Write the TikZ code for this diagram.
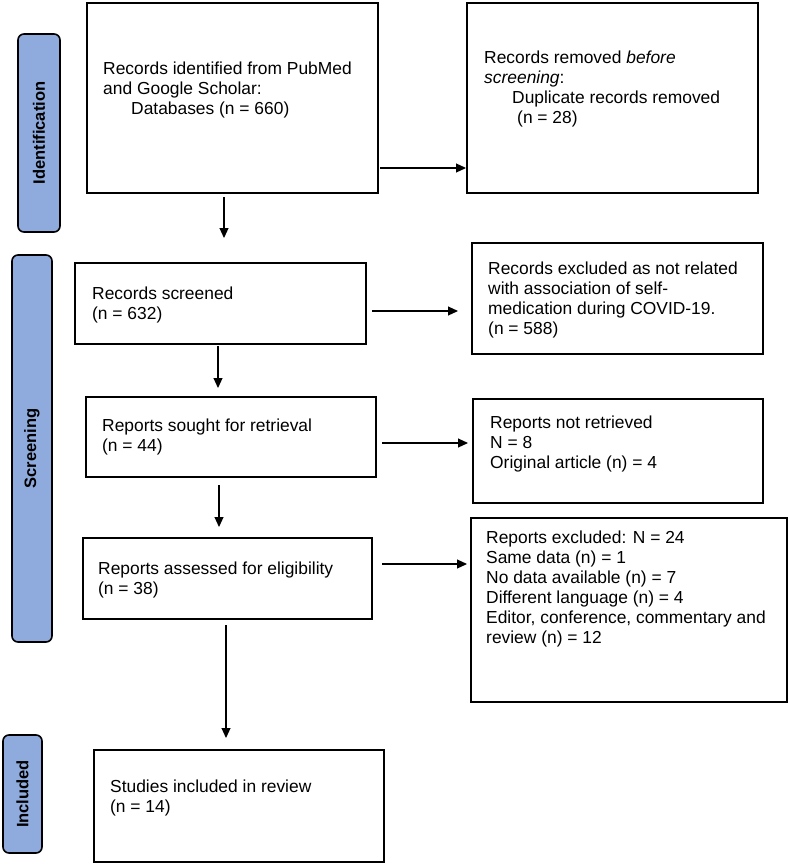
\documentclass[tikz,border=0pt]{standalone}
\usepackage{fontspec}
\setmainfont{Liberation Sans}
\usetikzlibrary{arrows.meta}
\definecolor{pillblue}{HTML}{8FAADC}
\begin{document}
\begin{tikzpicture}[x=1pt,y=-1pt,
  box/.style={draw=black, line width=1.6pt, inner sep=0pt, outer sep=0pt},
  txt/.style={anchor=north west, inner sep=0pt, align=left, font=\fontsize{17.4}{20}\selectfont},
  pill/.style={draw=black, line width=1.6pt, fill=pillblue, rounded corners=6pt, inner sep=0pt, rotate=90, font=\fontsize{16.5}{19}\selectfont\bfseries},
  arr/.style={line width=1.1pt, -{Triangle[length=10pt,width=9pt]}}]
\useasboundingbox (0,0) rectangle (789,864);
% phase labels
\node[pill, minimum width=198pt, minimum height=42pt] (p1) at (39,133) {Identification};
\node[pill, minimum width=387pt, minimum height=40pt] (p2) at (32,448.5) {Screening};
\node[pill, minimum width=118pt, minimum height=39pt] (p3) at (22.5,794) {Included};
% left column boxes
\node[box, minimum width=291pt, minimum height=190pt] (b1) at (232.5,98) {};
\node[box, minimum width=291pt, minimum height=81pt] (b3) at (220.5,303.5) {};
\node[box, minimum width=290pt, minimum height=80pt] (b4) at (231,437) {};
\node[box, minimum width=289pt, minimum height=81pt] (b5) at (227.5,578.5) {};
\node[box, minimum width=290pt, minimum height=112pt] (b6) at (239,806) {};
% right column boxes
\node[box, minimum width=291pt, minimum height=190pt] (b2) at (612.5,98) {};
\node[box, minimum width=291pt, minimum height=111pt] (r1) at (617.5,298.5) {};
\node[box, minimum width=290pt, minimum height=104pt] (r2) at (618,451) {};
\node[box, minimum width=316pt, minimum height=184pt] (r3) at (629,610) {};
% texts
\node[txt] (t1) at (103,62) {Records identified from PubMed\\and Google Scholar:\\\hspace*{28pt}Databases (n = 660)};
\node[txt] (t2) at (484,51) {Records removed \textit{before}\\\textit{screening}:\\\hspace*{28pt}Duplicate records removed\\\hspace*{33pt}(n = 28)};
\node[txt] (t3) at (92,287) {Records screened\\(n = 632)};
\node[txt] (t4) at (102,419) {Reports sought for retrieval\\(n = 44)};
\node[txt] (t5) at (98,562) {Reports assessed for eligibility\\(n = 38)};
\node[txt] (t6) at (110,780) {Studies included in review\\(n = 14)};
\node[txt] (t7) at (488,262) {Records excluded as not related\\with association of self-\\medication during COVID-19.\\(n = 588)};
\node[txt] (t8) at (490,416) {Reports not retrieved\\N = 8\\Original article (n) = 4};
\node[txt] (t9) at (486,531) {Reports excluded: N = 24\\Same data (n) = 1\\No data available (n) = 7\\Different language (n) = 4\\Editor, conference, commentary and\\review (n) = 12};
% arrow x positions
\coordinate (v1) at (224,0);
\coordinate (v2) at (218,0);
\coordinate (v3) at (219,0);
\coordinate (v4) at (226,0);
\coordinate (h1) at (0,168);
\coordinate (h2) at (0,311);
\coordinate (h3) at (0,443);
\coordinate (h4) at (0,564);
% vertical connectors
\draw[arr, shorten <=4pt, shorten >=25pt] (b1.south -| v1) -- (b3.north -| v1);
\draw[arr, shorten <=2pt, shorten >=9pt] (b3.south -| v2) -- (b4.north -| v2);
\draw[arr, shorten <=8pt, shorten >=11pt] (b4.south -| v3) -- (b5.north -| v3);
\draw[arr, shorten <=6pt, shorten >=12pt] (b5.south -| v4) -- (b6.north -| v4);
% horizontal connectors
\draw[arr, shorten <=2pt, shorten >=1pt] (b1.east |- h1) -- (b2.west |- h1);
\draw[arr, shorten <=6pt, shorten >=14pt] (b3.east |- h2) -- (r1.west |- h2);
\draw[arr, shorten <=6pt, shorten >=5pt] (b4.east |- h3) -- (r2.west |- h3);
\draw[arr, shorten <=10pt, shorten >=4pt] (b5.east |- h4) -- (r3.west |- h4);
\end{tikzpicture}
\end{document}
